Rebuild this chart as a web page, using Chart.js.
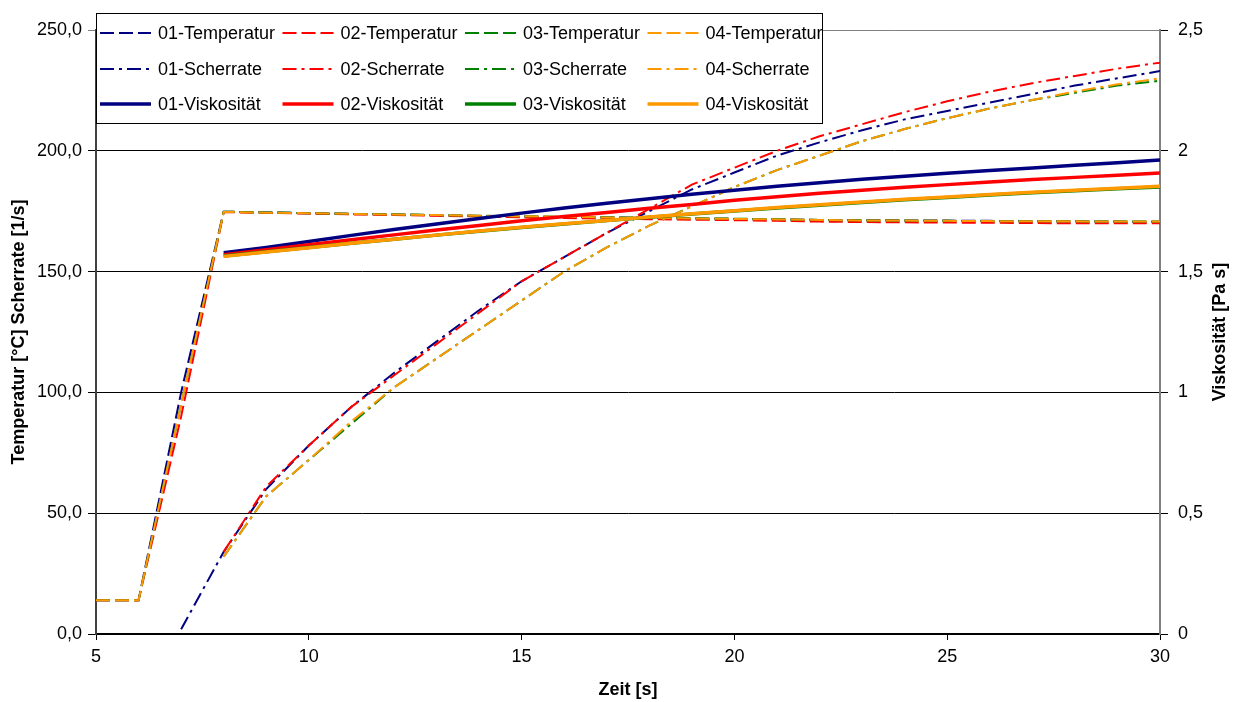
<!DOCTYPE html>
<html>
<head>
<meta charset="utf-8">
<script src="https://cdn.jsdelivr.net/npm/chart.js@4.4.1/dist/chart.umd.min.js"></script>
<style>
  html, body { margin: 0; padding: 0; background: #fff; }
</style>
</head>
<body>
<canvas id="chart" width="1237" height="702"></canvas>
<script>
// Zeit [s]
var zeit = [5, 6, 7, 8, 9, 10, 11, 12, 13, 14, 15, 16, 17, 18, 19, 20, 21, 22, 23, 24, 25, 26, 27, 28, 29, 30];

var proben = ["01", "02", "03", "04"];
var farben = ["#000080", "#FF0000", "#008000", "#FF9900"];

// Temperatur [°C]
var temp01 = [14, 14, 100, 174.8, 174.5, 174.2, 173.9, 173.6, 173.3, 173.0, 172.8, 172.6, 172.4, 172.2, 172.0, 171.8, 171.6, 171.4, 171.3, 171.2, 171.1, 171.0, 170.9, 170.8, 170.7, 170.6];
var temp02 = [14, 14, 90, 174.6, 174.3, 174.0, 173.7, 173.4, 173.1, 172.8, 172.5, 172.2, 171.9, 171.7, 171.5, 171.3, 171.0, 170.7, 170.5, 170.4, 170.3, 170.2, 170.1, 170.0, 170.0, 170.0];
var temp03 = [14, 14, 95, 174.8, 174.5, 174.2, 173.9, 173.7, 173.4, 173.1, 172.9, 172.7, 172.5, 172.3, 172.1, 171.9, 171.7, 171.4, 171.2, 171.1, 171.0, 170.9, 170.8, 170.8, 170.7, 170.7];
var temp04 = [14, 14, 95, 174.7, 174.4, 174.2, 173.9, 173.6, 173.4, 173.1, 172.9, 172.7, 172.4, 172.2, 172.0, 171.8, 171.6, 171.4, 171.2, 171.1, 171.0, 170.9, 170.8, 170.8, 170.7, 170.7];

// Scherrate [1/s]
var scher01 = [null, null, 2, 34, 60, 78, 94, 108, 121, 134, 146, 156, 166, 175, 184, 191, 198, 203.5, 208.5, 213, 216.5, 220, 223.5, 227, 230, 233];
var scher02 = [null, null, null, 34, 61, 78, 94, 107, 120, 133, 146, 156, 166, 176, 186, 193, 200, 206, 211, 216, 220.5, 224.5, 228, 231, 234, 236.5];
var scher03 = [null, null, null, 32, 57, 72, 87, 102, 114, 126, 138, 150, 160, 169, 177, 185, 192, 198, 204, 209, 213.5, 217.5, 221, 224, 227, 229];
var scher04 = [null, null, null, 32, 57, 72, 88, 102, 114, 126, 138, 150, 160, 169, 177, 185, 192, 198, 204, 209, 213.5, 217.5, 221, 224.5, 227.5, 230];

// Viskosität [Pa s]
var visk01 = [null, null, null, 1.578, 1.600, 1.625, 1.650, 1.674, 1.697, 1.720, 1.742, 1.763, 1.783, 1.802, 1.820, 1.837, 1.853, 1.868, 1.882, 1.895, 1.907, 1.918, 1.929, 1.940, 1.951, 1.962];
var visk02 = [null, null, null, 1.570, 1.590, 1.611, 1.632, 1.652, 1.672, 1.691, 1.710, 1.728, 1.745, 1.762, 1.778, 1.795, 1.810, 1.824, 1.837, 1.849, 1.860, 1.871, 1.881, 1.890, 1.899, 1.908];
var visk03 = [null, null, null, 1.565, 1.582, 1.600, 1.617, 1.634, 1.651, 1.667, 1.683, 1.697, 1.711, 1.725, 1.738, 1.751, 1.763, 1.775, 1.786, 1.797, 1.807, 1.817, 1.826, 1.835, 1.843, 1.850];
var visk04 = [null, null, null, 1.563, 1.581, 1.599, 1.617, 1.634, 1.651, 1.668, 1.684, 1.698, 1.712, 1.726, 1.739, 1.752, 1.765, 1.777, 1.788, 1.799, 1.809, 1.819, 1.828, 1.837, 1.845, 1.853];

var yTicks = [0, 50, 100, 150, 200, 250];
var y1Ticks = [0, 0.5, 1, 1.5, 2, 2.5];
var xTicks = [5, 10, 15, 20, 25, 30];

var gruppen = [
    { name: "Temperatur", werte: [temp01, temp02, temp03, temp04], axis: "y", dash: [14, 5], width: 2 },
    { name: "Scherrate", werte: [scher01, scher02, scher03, scher04], axis: "y", dash: [14, 5, 3, 5], width: 2 },
    { name: "Viskosität", werte: [visk01, visk02, visk03, visk04], axis: "y1", dash: [], width: 3.5 }
];

function punkte(werte) {
    return zeit.map(function (x, i) { return { x: x, y: werte[i] }; });
}

var datasets = [];
gruppen.forEach(function (g, gi) {
    g.werte.forEach(function (w, pi) {
        datasets.push({
            label: proben[pi] + "-" + g.name,
            data: punkte(w),
            yAxisID: g.axis,
            borderColor: farben[pi],
            backgroundColor: farben[pi],
            borderDash: g.dash,
            borderWidth: g.width,
            pointRadius: 0,
            fill: false,
            tension: 0,
            order: 100 - datasets.length
        });
    });
});

function komma(v, dec) {
    return (dec ? v.toFixed(dec) : String(v)).replace(".", ",");
}

// legend box in the upper left plus the right axis title
var extras = {
    id: "extras",
    afterDraw: function (chart) {
        var ctx = chart.ctx;
        ctx.save();
        ctx.fillStyle = "#fff";
        ctx.fillRect(96, 13, 726, 110);
        ctx.strokeStyle = "#000";
        ctx.lineWidth = 1;
        ctx.strokeRect(96.5, 13.5, 726, 110);

        var rows = [33, 69, 104];
        ctx.font = "18px 'Liberation Sans', Arial, sans-serif";
        ctx.textBaseline = "middle";
        ctx.textAlign = "left";
        chart.data.datasets.forEach(function (ds, i) {
            var r = Math.floor(i / 4), c = i % 4;
            var x0 = 96 + c * 182.5;
            var y = rows[r];
            ctx.beginPath();
            ctx.strokeStyle = ds.borderColor;
            ctx.lineWidth = ds.borderWidth;
            ctx.setLineDash(ds.borderDash);
            ctx.moveTo(x0 + 4, y);
            ctx.lineTo(x0 + 55, y);
            ctx.stroke();
            ctx.setLineDash([]);
            ctx.fillStyle = "#000";
            ctx.fillText(ds.label, x0 + 62, y + 1);
        });

        ctx.translate(1220, (chart.chartArea.top + chart.chartArea.bottom) / 2);
        ctx.rotate(-Math.PI / 2);
        ctx.textAlign = "center";
        ctx.font = "bold 18px 'Liberation Sans', Arial, sans-serif";
        ctx.fillText("Viskosität [Pa s]", 0, 0);
        ctx.restore();
    }
};

var tickFont = { family: "'Liberation Sans', Arial, sans-serif", size: 18 };
var titleFont = { family: "'Liberation Sans', Arial, sans-serif", size: 18, weight: "bold" };

new Chart(document.getElementById("chart"), {
    type: "line",
    data: { datasets: datasets },
    plugins: [extras],
    options: {
        responsive: false,
        animation: false,
        layout: { padding: { top: 30, left: 0, right: 0, bottom: 0 } },
        plugins: { legend: { display: false }, tooltip: { enabled: false } },
        scales: {
            x: {
                type: "linear",
                min: 5, max: 30,
                afterBuildTicks: function (s) { s.ticks = xTicks.map(function (v) { return { value: v }; }); },
                afterFit: function (s) { s.height = 68; },
                grid: { drawOnChartArea: false, drawTicks: true, tickLength: 6, color: "#000" },
                border: { color: "#000", width: 2 },
                ticks: { color: "#000", font: tickFont, padding: 6 },
                title: { display: true, text: "Zeit [s]", color: "#000", font: titleFont, padding: { top: 0, bottom: 1 } }
            },
            y: {
                position: "left",
                min: 0, max: 250,
                afterBuildTicks: function (s) { s.ticks = yTicks.map(function (v) { return { value: v }; }); },
                afterFit: function (s) { s.width = 96; },
                grid: {
                    color: function (c) { return c.tick && c.tick.value === 250 ? "#808080" : "#000"; },
                    lineWidth: 1,
                    tickLength: 8
                },
                border: { color: "#404040", width: 2 },
                ticks: { color: "#000", font: tickFont, padding: 6, callback: function (v) { return komma(v, 1); } },
                title: { display: true, text: "Temperatur [°C] Scherrate [1/s]", color: "#000", font: titleFont, padding: { top: 8, bottom: 0 } }
            },
            y1: {
                position: "right",
                min: 0, max: 2.5,
                afterBuildTicks: function (s) { s.ticks = y1Ticks.map(function (v) { return { value: v }; }); },
                afterFit: function (s) { s.width = 77; },
                grid: { drawOnChartArea: false, tickLength: 8, color: "#000" },
                border: { color: "#808080", width: 2 },
                ticks: { color: "#000", font: tickFont, padding: 10, callback: function (v) { return komma(v); } }
            }
        }
    }
});
</script>
</body>
</html>
